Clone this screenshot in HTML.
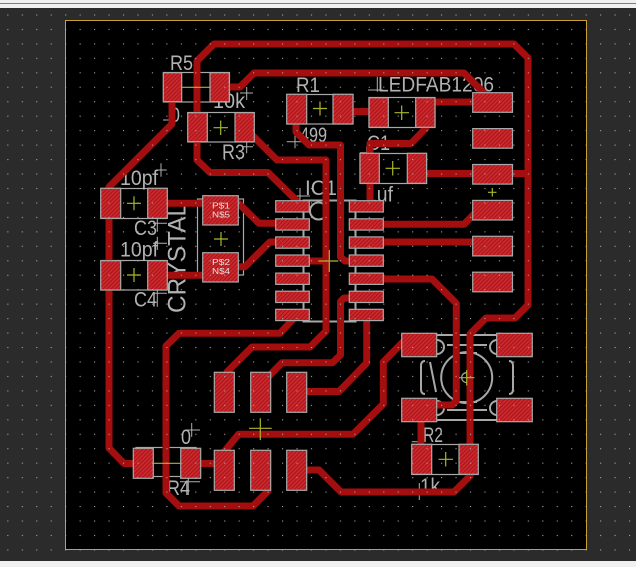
<!DOCTYPE html>
<html><head><meta charset="utf-8">
<style>html,body{margin:0;padding:0;background:#2b2b2b;width:636px;height:567px;overflow:hidden}svg{display:block}</style>
</head>
<body>
<svg width="636" height="567" viewBox="0 0 636 567" xmlns="http://www.w3.org/2000/svg">
<defs>
<pattern id="h" patternUnits="userSpaceOnUse" width="4" height="4">
<rect width="4" height="4" fill="#cc292d"/>
<path d="M-1,1L1,-1M0,4L4,0M3,5L5,3" stroke="#a3161a" stroke-width="1"/>
</pattern>
<pattern id="g" patternUnits="userSpaceOnUse" x="79.6" y="28.9" width="14.458" height="14.458">
<rect x="0" y="0" width="1.1" height="1.1" fill="#a6a6a6"/>
</pattern>
</defs>

<rect width="636" height="567" fill="#2b2b2b"/>
<rect width="636" height="8" fill="#f0f0f0"/>
<rect y="3" width="636" height="1" fill="#3d8fd1"/>
<rect y="561" width="636" height="6" fill="#f0f0f0"/>
<rect x="65.5" y="20.5" width="521" height="529" fill="#000" stroke="#c9a233" stroke-width="1"/>

<g stroke="#a8a8a8" stroke-width="1.2" fill="none">
<rect x="163.5" y="72.5" width="66" height="29.5"/>
<rect x="188" y="112.5" width="66" height="29.5"/>
<rect x="287" y="94.5" width="66" height="29.5"/>
<rect x="369" y="97.5" width="66" height="30"/>
<rect x="360" y="153.5" width="66.5" height="30"/>
<rect x="101" y="188.5" width="66" height="30"/>
<rect x="101" y="260.5" width="66" height="29.5"/>
<rect x="136" y="447.5" width="60" height="29"/>
<rect x="412" y="444.5" width="66" height="30"/>
<rect x="197.5" y="199" width="46" height="76"/>
<rect x="303.5" y="200.5" width="52" height="121" stroke-width="2"/>
<circle cx="318.5" cy="211" r="8.5" stroke-width="2"/>
</g>
<g stroke="#a8a8a8" stroke-width="2" fill="none">
<line x1="437" y1="335" x2="497" y2="335"/>
<line x1="437" y1="420" x2="497" y2="420"/>
<line x1="447" y1="345" x2="487" y2="345"/>
<line x1="458" y1="353" x2="477" y2="353"/>
<line x1="458" y1="402" x2="477" y2="402"/>
<line x1="447" y1="410" x2="487" y2="410"/>
<path d="M425 361 Q421 361 421 366 L421 389 Q421 394 425 394"/>
<path d="M509 361 Q513 361 513 366 L513 389 Q513 394 509 394"/>
<path d="M430 362 L436 392"/>
<path d="M437 340 A7 7 0 0 1 437 354"/>
<path d="M437 401 A7 7 0 0 1 437 415"/>
<path d="M497 340 A7 7 0 0 0 497 354"/>
<path d="M497 401 A7 7 0 0 0 497 415"/>
<circle cx="466.7" cy="377.6" r="25.5"/>
<circle cx="466.7" cy="377.6" r="5" stroke-width="1.2"/>
</g>

<g stroke="#b0b0b0" stroke-width="1" fill="none">
<path d="M240 93H253M246.7 87V100"/>
<path d="M163 120H175M171.7 110V127"/>
<path d="M243 146.7H253M246.7 141.7V153.3"/>
<path d="M286.7 141.7H301.7M295 131.7V148.3"/>
<path d="M368 90H383M377.3 76.7V91.7"/>
<path d="M360 152.7H371.7M366.7 146.7V160"/>
<path d="M156.7 170H166.7M161 163.3V176.7"/>
<path d="M153 223.3H167M157.3 218V231.7"/>
<path d="M153 243.3H167M157.3 236.7V250"/>
<path d="M153 293.3H167M157.3 290V306.7"/>
<path d="M295 196H310M300 188V201.7"/>
<path d="M186.7 430H200M191.7 423V436.7"/>
<path d="M180 481.7H200M188.3 476.7V495"/>
<path d="M411.7 441.7H423.3M420 433V445"/>
<path d="M413 491.7H427M419.3 483V500"/>
</g>

<g fill="#b2b2b2" font-family="'Liberation Sans', sans-serif" font-size="21">
<text x="170" y="70" textLength="23" lengthAdjust="spacingAndGlyphs">R5</text>
<text x="213" y="108" textLength="32" lengthAdjust="spacingAndGlyphs">10k</text>
<text x="170" y="122" textLength="10" lengthAdjust="spacingAndGlyphs">0</text>
<text x="222" y="159" textLength="23" lengthAdjust="spacingAndGlyphs">R3</text>
<text x="296" y="92" textLength="24" lengthAdjust="spacingAndGlyphs">R1</text>
<text x="300" y="142" textLength="27" lengthAdjust="spacingAndGlyphs">499</text>
<text x="378" y="91.7" textLength="116" lengthAdjust="spacingAndGlyphs">LEDFAB1206</text>
<text x="367" y="150" textLength="23" lengthAdjust="spacingAndGlyphs">C1</text>
<text x="366" y="201.7" textLength="27" lengthAdjust="spacingAndGlyphs">1uf</text>
<text x="305" y="195" textLength="32" lengthAdjust="spacingAndGlyphs">IC1</text>
<text x="120" y="185" textLength="38" lengthAdjust="spacingAndGlyphs">10pf</text>
<text x="134" y="235" textLength="23" lengthAdjust="spacingAndGlyphs">C3</text>
<text x="120" y="256.7" textLength="38" lengthAdjust="spacingAndGlyphs">10pf</text>
<text x="134" y="306.7" textLength="23" lengthAdjust="spacingAndGlyphs">C4</text>
<text transform="translate(185.5,313) rotate(-90)" font-size="25" textLength="110" lengthAdjust="spacingAndGlyphs">CRYSTAL</text>
<text x="181" y="444" textLength="10" lengthAdjust="spacingAndGlyphs">0</text>
<text x="167" y="495" textLength="23" lengthAdjust="spacingAndGlyphs">R4</text>
<text x="423" y="442" textLength="20" lengthAdjust="spacingAndGlyphs">R2</text>
<text x="420" y="493" textLength="20" lengthAdjust="spacingAndGlyphs">1k</text>
</g>

<g fill="none" stroke="#a50e0e" stroke-width="7" stroke-linecap="round" stroke-linejoin="round">
<path d="M296 206 L296 200 L268 172.5 L210 172.5 L197 160 L197 61 L214 44 L514 44 L528 58 L528 305 L515 318 L486 318 L470 334 L470 476 L454 492 L341 492 L319 470 L306 470"/>
<path d="M225 87 L240 87 L254 73 L464 73 L486 95"/>
<path d="M350 111.5 L372 111.5"/>
<path d="M432 102 L476 102"/>
<path d="M426 124 L426 128 L411 143.5 L370 143.5 L370 206"/>
<path d="M424 173.5 L528 173.5"/>
<path d="M296 120 L296 132 L309 145 L340.5 145 L340.5 257 L345 261 L355 261"/>
<path d="M250 133 L277 160 L326 160 L326 331 L310 347 L252 347 L227 372"/>
<path d="M305 261 L326 261"/>
<path d="M355 298 L344 298 L340.5 301.5 L340.5 355 L332.5 362.7 L282 362.7 L265 380"/>
<path d="M366.7 315 L366.7 363 L339 391.5 L306 391.5"/>
<path d="M296 316 L280 333.3 L179 333.3 L166 346 L166 493 L179 506 L253 506 L268 491"/>
<path d="M172 101 L172 124 L109 187 L109 448 L124 463.5 L140 463.5"/>
<path d="M195 463.5 L218 463.5"/>
<path d="M224 452 L238.5 434.3 L353 434.3 L383.3 404 L383.3 362 L403 342"/>
<path d="M380 279 L432 279 L456.3 303.3 L456.3 401 L452 405 L436 405"/>
<path d="M421 420 L421 446"/>
<path d="M380 224.3 L464 224.3 L477 211"/>
<path d="M380 242 L476 242"/>
<path d="M164 203.3 L205 203.3"/>
<path d="M236 201 L259 223.3 L278 223.3"/>
<path d="M164 275.3 L205 275.3"/>
<path d="M236 266.7 L245 266.7 L270 242 L278 242"/>
</g>

<g fill="url(#h)" stroke="#a9a9a9" stroke-width="1.2">
<rect x="163.3" y="72.7" width="18.4" height="29"/>
<rect x="210" y="72.7" width="19.3" height="29"/>
<rect x="187.7" y="112.7" width="19.6" height="29"/>
<rect x="235" y="112.7" width="19.3" height="29"/>
<rect x="286.7" y="94.3" width="20" height="29.7"/>
<rect x="333" y="94.3" width="20" height="29.7"/>
<rect x="369" y="97.7" width="19.3" height="29.6"/>
<rect x="415.7" y="97.7" width="19.3" height="29.6"/>
<rect x="360" y="153.3" width="19.3" height="30"/>
<rect x="407.3" y="153.3" width="19.3" height="30"/>
<rect x="100.7" y="188.3" width="20" height="30"/>
<rect x="147.7" y="188.3" width="19.6" height="30"/>
<rect x="100.7" y="260.7" width="20" height="29.3"/>
<rect x="147.7" y="260.7" width="19.6" height="29.3"/>
<rect x="202.7" y="195.7" width="35.6" height="29.3"/>
<rect x="202.7" y="252.7" width="35.6" height="29.3"/>
<rect x="275.7" y="200.7" width="33.6" height="11.3"/>
<rect x="275.7" y="218.8" width="33.6" height="11.3"/>
<rect x="275.7" y="236.9" width="33.6" height="11.3"/>
<rect x="275.7" y="255" width="33.6" height="11.3"/>
<rect x="275.7" y="273.1" width="33.6" height="11.3"/>
<rect x="275.7" y="291.2" width="33.6" height="11.3"/>
<rect x="275.7" y="309.3" width="33.6" height="11.3"/>
<rect x="349.3" y="200.7" width="34" height="11.3"/>
<rect x="349.3" y="218.8" width="34" height="11.3"/>
<rect x="349.3" y="236.9" width="34" height="11.3"/>
<rect x="349.3" y="255" width="34" height="11.3"/>
<rect x="349.3" y="273.1" width="34" height="11.3"/>
<rect x="349.3" y="291.2" width="34" height="11.3"/>
<rect x="349.3" y="309.3" width="34" height="11.3"/>
<rect x="472.7" y="92.7" width="39.8" height="19.6"/>
<rect x="472.7" y="128.6" width="39.8" height="19.6"/>
<rect x="472.7" y="164.5" width="39.8" height="19.6"/>
<rect x="472.7" y="200.4" width="39.8" height="19.6"/>
<rect x="472.7" y="236.3" width="39.8" height="19.6"/>
<rect x="472.7" y="272.2" width="39.8" height="19.6"/>
<rect x="214.3" y="372.3" width="20" height="40"/>
<rect x="250.7" y="372.3" width="20" height="40"/>
<rect x="286.7" y="372.3" width="20" height="40"/>
<rect x="214.3" y="450.3" width="20" height="40"/>
<rect x="250.7" y="450.3" width="20" height="40"/>
<rect x="286.7" y="450.3" width="20" height="40"/>
<rect x="133.3" y="448.3" width="20" height="30"/>
<rect x="180.7" y="448.3" width="20" height="30"/>
<rect x="401.7" y="333.3" width="35" height="23.4"/>
<rect x="496.7" y="333.3" width="35.6" height="23.4"/>
<rect x="401.7" y="398.3" width="35" height="23.4"/>
<rect x="496.7" y="398.3" width="35.6" height="23.4"/>
<rect x="411.7" y="444.3" width="20" height="30"/>
<rect x="459" y="444.3" width="19.3" height="30"/>
</g>

<g fill="#e2e2e2" font-family="'Liberation Sans', sans-serif" font-size="8">
<text x="212" y="208.5" textLength="18" lengthAdjust="spacingAndGlyphs">P$1</text>
<text x="212" y="217.5" textLength="18" lengthAdjust="spacingAndGlyphs">N$5</text>
<text x="212" y="265" textLength="18" lengthAdjust="spacingAndGlyphs">P$2</text>
<text x="212" y="274" textLength="18" lengthAdjust="spacingAndGlyphs">N$4</text>
</g>

<g stroke="#a9b62a" stroke-width="1.2" fill="none">
<path d="M182 87.3H210"/>
<path d="M213.5 127.7H228M220.7 120.5V135"/>
<path d="M313 108.5H327M320 101.5V115.5"/>
<path d="M394.5 112.7H409M401.7 105.5V120"/>
<path d="M385.5 168.3H400M392.7 161V175.5"/>
<path d="M488 192.3H496.5M492.3 188V196.5"/>
<path d="M127 203.3H141M134 196.3V210.3"/>
<path d="M127 275H141M134 268V282"/>
<path d="M214 239H228M221 232V246"/>
<path d="M318.3 261H338.3M329.3 250V272"/>
<path d="M249 428.3H271.7M260.3 418.3V440"/>
<path d="M459 377.7H474.5M466.7 370V385.5"/>
<path d="M438.5 459.3H453M445.7 452V466.5"/>
<path d="M153 463.3H180.5"/>
</g>

<rect x="0" y="8" width="636" height="553" fill="url(#g)"/>
</svg>
</body>
</html>
